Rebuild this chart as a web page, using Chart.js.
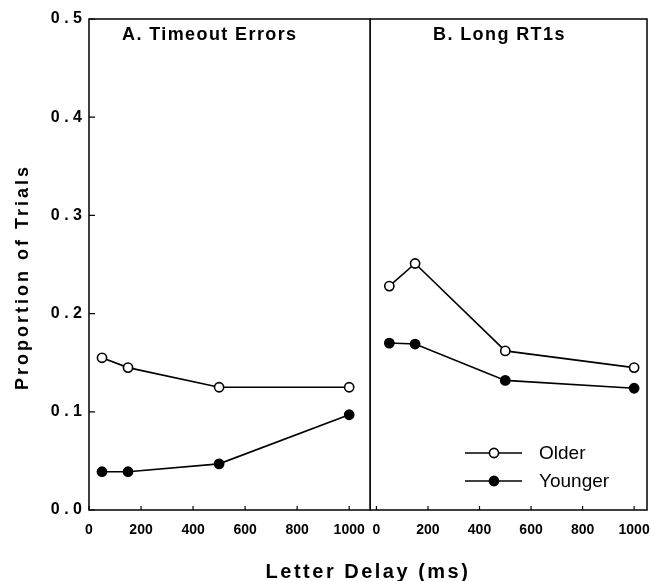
<!DOCTYPE html>
<html>
<head>
<meta charset="utf-8">
<script src="https://cdn.jsdelivr.net/npm/chart.js@4.4.0/dist/chart.umd.min.js"></script>
<style>
  body { margin: 0; background: #fff; }
  #wrap { position: relative; width: 652px; height: 581px; overflow: hidden; font-family: "Liberation Sans", Arial, sans-serif; }
  canvas { position: absolute; top: 0; }
  .lbl { position: absolute; white-space: nowrap; font-weight: bold; color: #000; }
</style>
</head>
<body>
<div id="wrap">
  <canvas id="panelA" width="371" height="581" style="left:0"></canvas>
  <canvas id="panelB" width="282" height="581" style="left:370px"></canvas>
  <div class="lbl" style="left:122px; top:25px; font-size:18px; line-height:18px; letter-spacing:1.4px;">A. Timeout Errors</div>
  <div class="lbl" style="left:433px; top:25px; font-size:18px; line-height:18px; letter-spacing:1.4px;">B. Long RT1s</div>
  <div class="lbl" style="left:22px; top:277px; font-size:18px; line-height:18px; letter-spacing:3px; transform:translate(-50%,-50%) rotate(-90deg);">Proportion of Trials</div>
  <div class="lbl" style="left:368px; top:561px; font-size:20px; line-height:20px; letter-spacing:2.5px; transform:translateX(-50%);">Letter Delay (ms)</div>
</div>
<script>
// ---------------------------------------------------------
// Data
// ---------------------------------------------------------
const delays = [50, 150, 500, 1000];
const xTicks = [0, 200, 400, 600, 800, 1000];
const yTicks = [0, 0.1, 0.2, 0.3, 0.4, 0.5];

const timeoutOlder = [0.155, 0.145, 0.125, 0.125];
const timeoutYounger = [0.039, 0.039, 0.047, 0.097];
const longOlder = [0.228, 0.251, 0.162, 0.145];
const longYounger = [0.170, 0.169, 0.132, 0.124];

const seriesNames = ['Older', 'Younger'];

const FONT = '"Liberation Sans", Arial, sans-serif';
const toPoints = (vals) => vals.map((v, i) => ({ x: delays[i], y: v }));

function makeDataset(label, vals, filled) {
  return {
    label: label,
    data: toPoints(vals),
    borderColor: '#000',
    borderWidth: 1.6,
    backgroundColor: filled ? '#000' : '#fff',
    pointBackgroundColor: filled ? '#000' : '#fff',
    pointBorderColor: '#000',
    pointBorderWidth: 1.6,
    pointRadius: 4.6,
    tension: 0,
    clip: 8
  };
}

// frame + inward tick marks
const framePlugin = {
  id: 'frame',
  afterDraw(chart) {
    const { ctx, chartArea: a, scales } = chart;
    ctx.save();
    ctx.strokeStyle = '#000';
    ctx.lineWidth = 1.5;
    ctx.strokeRect(a.left, a.top, a.right - a.left, a.bottom - a.top);
    ctx.lineWidth = 1.2;
    ctx.beginPath();
    xTicks.forEach(v => {
      const px = scales.x.getPixelForValue(v);
      ctx.moveTo(px, a.bottom);
      ctx.lineTo(px, a.bottom - 4);
    });
    if (scales.y.options.display) {
      yTicks.forEach(v => {
        const py = scales.y.getPixelForValue(v);
        ctx.moveTo(a.left, py);
        ctx.lineTo(a.left + 6, py);
      });
    }
    ctx.stroke();
    ctx.restore();
  }
};

// legend with line + marker, inside panel B
const legendPlugin = {
  id: 'lineLegend',
  afterDraw(chart) {
    const { ctx } = chart;
    const rows = [{ y: 453, filled: false }, { y: 481, filled: true }];
    ctx.save();
    rows.forEach((r, i) => {
      ctx.strokeStyle = '#000';
      ctx.lineWidth = 1.6;
      ctx.beginPath();
      ctx.moveTo(95, r.y);
      ctx.lineTo(152, r.y);
      ctx.stroke();
      ctx.beginPath();
      ctx.arc(124, r.y, 4.6, 0, Math.PI * 2);
      ctx.fillStyle = r.filled ? '#000' : '#fff';
      ctx.fill();
      ctx.stroke();
      ctx.fillStyle = '#000';
      ctx.font = '19px ' + FONT;
      ctx.textBaseline = 'middle';
      ctx.fillText(seriesNames[i], 169, r.y + 1);
    });
    ctx.restore();
  }
};

function buildOptions(xMin, xMax, showY, padRight) {
  return {
    responsive: false,
    animation: false,
    layout: { autoPadding: false, padding: { top: 19, right: padRight, left: 0, bottom: 0 } },
    plugins: { legend: { display: false }, tooltip: { enabled: false } },
    scales: {
      x: {
        type: 'linear',
        min: xMin,
        max: xMax,
        afterBuildTicks: (s) => { s.ticks = xTicks.map(v => ({ value: v })); },
        afterFit: (s) => { s.height = 71; s.paddingLeft = 0; s.paddingRight = 0; },
        grid: { display: false, drawTicks: false },
        border: { display: false },
        ticks: {
          color: '#000',
          padding: 12,
          maxRotation: 0,
          autoSkip: false,
          font: { family: FONT, size: 14, weight: 'bold' },
          callback: (v) => String(v)
        }
      },
      y: {
        display: showY,
        min: 0,
        max: 0.5,
        afterBuildTicks: (s) => { s.ticks = yTicks.map(v => ({ value: v })); },
        afterFit: (s) => { s.width = showY ? 89 : 0; s.paddingTop = 0; s.paddingBottom = 0; },
        grid: { display: false, drawTicks: false },
        border: { display: false },
        ticks: {
          color: '#000',
          padding: 7,
          font: { family: FONT, size: 16, weight: 'bold' },
          callback: (v) => v.toFixed(1).split('').join(' ')
        }
      }
    }
  };
}

new Chart(document.getElementById('panelA'), {
  type: 'line',
  data: {
    datasets: [
      makeDataset(seriesNames[0], timeoutOlder, false),
      makeDataset(seriesNames[1], timeoutYounger, true)
    ]
  },
  options: buildOptions(0, 1080, true, 1),
  plugins: [framePlugin]
});

new Chart(document.getElementById('panelB'), {
  type: 'line',
  data: {
    datasets: [
      makeDataset(seriesNames[0], longOlder, false),
      makeDataset(seriesNames[1], longYounger, true)
    ]
  },
  options: buildOptions(-25, 1050, false, 5),
  plugins: [framePlugin, legendPlugin]
});
</script>
</body>
</html>
